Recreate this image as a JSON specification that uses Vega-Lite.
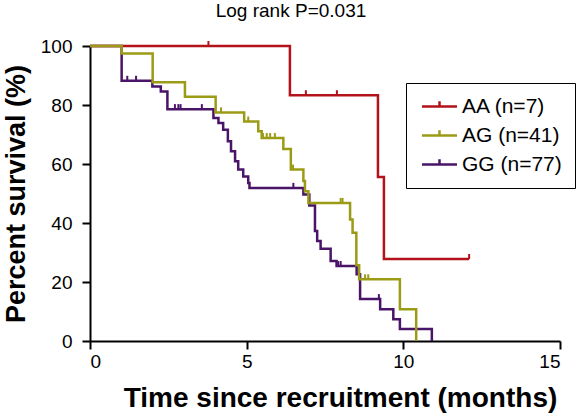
{
  "$schema": "https://vega.github.io/schema/vega-lite/v6.json",
  "width": 470,
  "height": 295,
  "autosize": {"type": "none"},
  "padding": {"left": 90, "top": 46, "right": 22, "bottom": 77},
  "background": "white",
  "title": {"text": "Log rank P=0.031", "font": "Liberation Sans", "fontSize": 19, "fontWeight": "normal", "color": "black", "anchor": "middle", "frame": "group", "dx": -34, "offset": 16},
  "config": {"view": {"stroke": null}, "font": "Liberation Sans"},
  "datasets": {
    "curves": [
      {"g": "GG (n=77)", "t": 0, "s": 100},
      {"g": "GG (n=77)", "t": 1.01, "s": 88.2},
      {"g": "GG (n=77)", "t": 1.99, "s": 86.3},
      {"g": "GG (n=77)", "t": 2.26, "s": 84.6},
      {"g": "GG (n=77)", "t": 2.47, "s": 78.6},
      {"g": "GG (n=77)", "t": 3.94, "s": 75.6},
      {"g": "GG (n=77)", "t": 4.10, "s": 73.9},
      {"g": "GG (n=77)", "t": 4.25, "s": 71.6},
      {"g": "GG (n=77)", "t": 4.40, "s": 67.7},
      {"g": "GG (n=77)", "t": 4.50, "s": 64.3},
      {"g": "GG (n=77)", "t": 4.63, "s": 60.9},
      {"g": "GG (n=77)", "t": 4.73, "s": 58.1},
      {"g": "GG (n=77)", "t": 4.89, "s": 55.8},
      {"g": "GG (n=77)", "t": 5.05, "s": 53.6},
      {"g": "GG (n=77)", "t": 5.09, "s": 51.9},
      {"g": "GG (n=77)", "t": 6.81, "s": 49.7},
      {"g": "GG (n=77)", "t": 7.00, "s": 45.9},
      {"g": "GG (n=77)", "t": 7.18, "s": 37.3},
      {"g": "GG (n=77)", "t": 7.25, "s": 33.9},
      {"g": "GG (n=77)", "t": 7.36, "s": 31.3},
      {"g": "GG (n=77)", "t": 7.68, "s": 27.1},
      {"g": "GG (n=77)", "t": 7.87, "s": 25.4},
      {"g": "GG (n=77)", "t": 8.51, "s": 22.6},
      {"g": "GG (n=77)", "t": 8.62, "s": 14.2},
      {"g": "GG (n=77)", "t": 9.26, "s": 10.8},
      {"g": "GG (n=77)", "t": 9.68, "s": 7.4},
      {"g": "GG (n=77)", "t": 9.89, "s": 4.1},
      {"g": "GG (n=77)", "t": 10.91, "s": 0},
      {"g": "AA (n=7)", "t": 0, "s": 100},
      {"g": "AA (n=7)", "t": 6.38, "s": 83.3},
      {"g": "AA (n=7)", "t": 9.19, "s": 55.6},
      {"g": "AA (n=7)", "t": 9.38, "s": 27.8},
      {"g": "AA (n=7)", "t": 12.10, "s": 27.8},
      {"g": "AG (n=41)", "t": 0, "s": 100},
      {"g": "AG (n=41)", "t": 1.01, "s": 97.5},
      {"g": "AG (n=41)", "t": 2.00, "s": 87.7},
      {"g": "AG (n=41)", "t": 3.03, "s": 82.8},
      {"g": "AG (n=41)", "t": 4.01, "s": 77.5},
      {"g": "AG (n=41)", "t": 4.92, "s": 74.4},
      {"g": "AG (n=41)", "t": 5.37, "s": 71.1},
      {"g": "AG (n=41)", "t": 5.48, "s": 68.8},
      {"g": "AG (n=41)", "t": 6.17, "s": 65.1},
      {"g": "AG (n=41)", "t": 6.41, "s": 58.1},
      {"g": "AG (n=41)", "t": 6.81, "s": 54.2},
      {"g": "AG (n=41)", "t": 6.86, "s": 50.8},
      {"g": "AG (n=41)", "t": 6.97, "s": 46.8},
      {"g": "AG (n=41)", "t": 8.30, "s": 41.2},
      {"g": "AG (n=41)", "t": 8.38, "s": 36.7},
      {"g": "AG (n=41)", "t": 8.50, "s": 25.7},
      {"g": "AG (n=41)", "t": 8.59, "s": 20.9},
      {"g": "AG (n=41)", "t": 9.89, "s": 10.8},
      {"g": "AG (n=41)", "t": 10.41, "s": 0}
    ],
    "censors": [
      {"g": "GG (n=77)", "t": 1.19, "s": 88.2},
      {"g": "GG (n=77)", "t": 1.47, "s": 88.2},
      {"g": "GG (n=77)", "t": 2.71, "s": 78.6},
      {"g": "GG (n=77)", "t": 2.82, "s": 78.6},
      {"g": "GG (n=77)", "t": 2.89, "s": 78.6},
      {"g": "GG (n=77)", "t": 3.57, "s": 78.6},
      {"g": "GG (n=77)", "t": 6.49, "s": 51.9},
      {"g": "GG (n=77)", "t": 7.92, "s": 25.4},
      {"g": "GG (n=77)", "t": 8.00, "s": 25.4},
      {"g": "GG (n=77)", "t": 9.22, "s": 14.2},
      {"g": "AA (n=7)", "t": 3.78, "s": 100},
      {"g": "AA (n=7)", "t": 6.89, "s": 83.3},
      {"g": "AA (n=7)", "t": 7.88, "s": 83.3},
      {"g": "AA (n=7)", "t": 12.10, "s": 27.8},
      {"g": "AG (n=41)", "t": 4.18, "s": 77.5},
      {"g": "AG (n=41)", "t": 5.05, "s": 74.4},
      {"g": "AG (n=41)", "t": 5.52, "s": 68.8},
      {"g": "AG (n=41)", "t": 5.64, "s": 68.8},
      {"g": "AG (n=41)", "t": 5.75, "s": 68.8},
      {"g": "AG (n=41)", "t": 5.90, "s": 68.8},
      {"g": "AG (n=41)", "t": 6.48, "s": 58.1},
      {"g": "AG (n=41)", "t": 8.00, "s": 46.8},
      {"g": "AG (n=41)", "t": 8.06, "s": 46.8},
      {"g": "AG (n=41)", "t": 8.78, "s": 20.9},
      {"g": "AG (n=41)", "t": 8.88, "s": 20.9}
    ]
  },
  "encoding": {
    "x": {
      "field": "t", "type": "quantitative",
      "scale": {"domain": [0, 15], "nice": false},
      "axis": {
        "values": [0, 5, 10, 15], "title": "Time since recruitment (months)",
        "titleFont": "Liberation Sans", "titleFontSize": 28, "titleFontWeight": "bold", "titleColor": "black", "titlePadding": 13, "titleX": 250,
        "labelFont": "Liberation Sans", "labelFontSize": 19, "labelColor": "black", "labelPadding": 3,
        "tickSize": 8, "tickWidth": 2, "tickColor": "black", "domainWidth": 2, "domainColor": "black", "grid": false
      }
    },
    "y": {
      "field": "s", "type": "quantitative",
      "scale": {"domain": [0, 100], "nice": false},
      "axis": {
        "values": [0, 20, 40, 60, 80, 100], "title": "Percent survival (%)",
        "titleFont": "Liberation Sans", "titleFontSize": 27, "titleFontWeight": "bold", "titleColor": "black", "titlePadding": 10,
        "labelFont": "Liberation Sans", "labelFontSize": 19, "labelColor": "black", "labelPadding": 10,
        "tickSize": 8, "tickWidth": 2, "tickColor": "black", "domainWidth": 2, "domainColor": "black", "grid": false
      }
    },
    "color": {
      "field": "g", "type": "nominal",
      "scale": {"domain": ["AA (n=7)", "AG (n=41)", "GG (n=77)"], "range": ["#B3121B", "#9B9B16", "#4A1468"]},
      "legend": {
        "orient": "none", "legendX": 316, "legendY": 37, "title": null,
        "strokeColor": "black", "padding": 13, "fillColor": "white",
        "symbolType": "M-3,0H3M0,0V-0.9", "symbolSize": 136, "symbolStrokeWidth": 2.5, "symbolFillColor": "transparent",
        "symbolOffset": 10, "labelOffset": 12, "rowPadding": 7,
        "labelFont": "Liberation Sans", "labelFontSize": 21, "labelColor": "black"
      }
    }
  },
  "layer": [
    {
      "data": {"name": "curves"},
      "mark": {"type": "line", "interpolate": "step-after", "strokeWidth": 2.5}
    },
    {
      "data": {"name": "censors"},
      "mark": {"type": "point", "shape": "M0,0V-1", "size": 100, "filled": false, "strokeWidth": 2, "opacity": 1}
    }
  ]
}
